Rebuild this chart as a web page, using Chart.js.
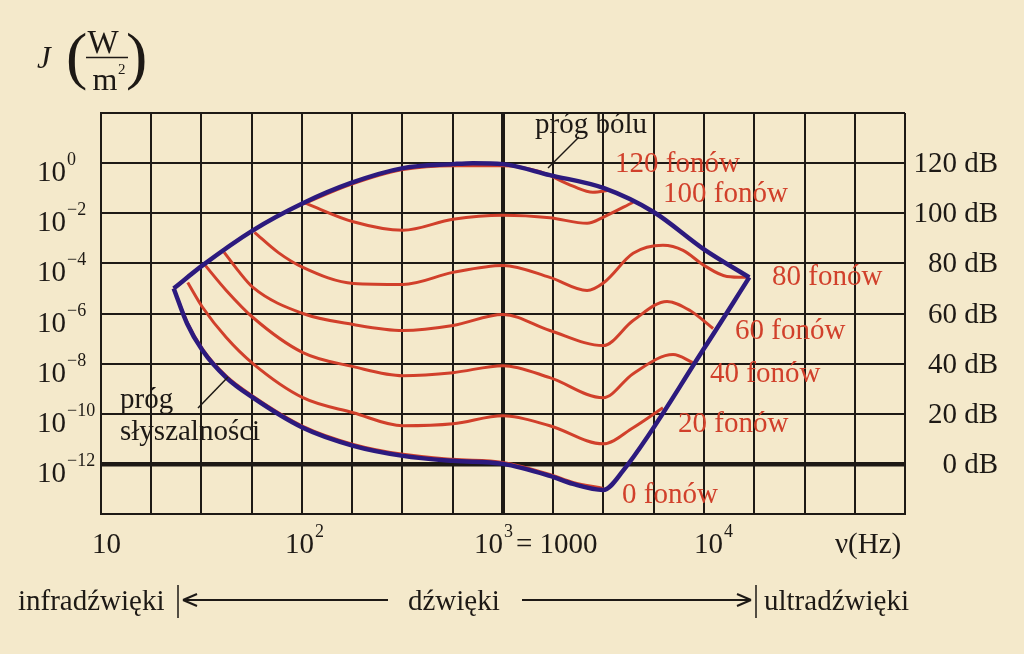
<!DOCTYPE html>
<html>
<head>
<meta charset="utf-8">
<script src="https://cdn.jsdelivr.net/npm/chart.js@4"></script>
<style>
  html, body { margin: 0; padding: 0; background: #f4e9cb; }
  canvas { display: block; }
</style>
</head>
<body>
<canvas id="fonyChart" width="1024" height="654"></canvas>
<script>
// siatka: co cwierc dekady (Hz)
const gridFreqs = [10, 17.78, 31.62, 56.23, 100, 177.8, 316.2, 562.3, 1000, 1778, 3162, 5623, 10000, 17783, 31623, 56234, 100000];

// opisy osi
const levelTicks = [120, 100, 80, 60, 40, 20, 0];
const leftExps = ['0', '\u22122', '\u22124', '\u22126', '\u22128', '\u221210', '\u221212'];
const dbLabels = ['120 dB', '100 dB', '80 dB', '60 dB', '40 dB', '20 dB', '0 dB'];
const xLabelFreqs = [10, 100, 1000, 10000];
const xLabelExps = ['', '2', '3', '4'];

// prog bolu (dB)
const painFreq = [23, 32, 57, 101, 174, 318, 564, 709, 1000, 1710, 3180, 5640, 10000, 16800];
const painLevel = [70, 79.2, 93.2, 104, 112, 118, 119.6, 120, 119.6, 115.2, 110, 100.4, 85.6, 74.4];

// prog slyszalnosci + granica ultradzwiekow
const hearFreq = [23, 26.8, 32, 42, 57, 101, 180, 318, 564, 1000, 1710, 2230, 3150, 3950, 10000, 16800];
const hearLevel = [70, 56, 45.2, 34.4, 26.4, 14.4, 7.2, 3.2, 1.2, 0, -4.8, -8, -10.4, -2.8, 46, 74.4];

// krzywe jednakowej glosnosci
const phon120Freq = [101, 174, 318, 564, 1000, 1530, 2230, 2800, 3400];
const phon120Level = [103.6, 111.4, 117.4, 119, 119, 116.6, 110.8, 108.4, 109.2];

const phon100Freq = [104, 180, 318, 564, 1000, 1710, 2620, 3180, 4440];
const phon100Level = [104, 96.6, 93.2, 97.6, 99.2, 98.2, 96, 98.6, 104.4];

const phon80Freq = [58, 76, 101, 180, 318, 564, 1000, 1710, 2620, 3180, 4440, 6250, 7870, 10000, 13000, 16800];
const phon80Level = [92.4, 84.4, 78.4, 72, 71.6, 76.4, 79.2, 74.4, 69.2, 72.4, 84, 87.2, 85.2, 79.2, 74.8, 74.4];

const phon60Freq = [41, 48, 57, 101, 180, 318, 564, 1000, 1710, 3150, 4440, 6550, 8520, 11100];
const phon60Level = [84.4, 77.2, 70.4, 60, 55.6, 53.2, 55.2, 59.6, 53.2, 47.2, 57.2, 64.8, 61.2, 54];

const phon40Freq = [33, 42, 57, 101, 180, 318, 564, 1000, 1710, 3150, 4440, 7020, 8820];
const phon40Level = [79.2, 69.2, 58.4, 44.4, 38.8, 35.2, 36.4, 39.2, 34.4, 26.4, 36, 43.6, 40.4];

const phon20Freq = [27, 32, 42, 57, 101, 180, 318, 564, 1000, 1710, 3150, 4440, 6250];
const phon20Level = [72.4, 62.5, 50.4, 40, 26.4, 20.4, 15.2, 16, 19.2, 15.2, 8, 14.4, 22.4];

const phon0Freq = [23, 26.8, 32, 42, 57, 101, 180, 318, 564, 1000, 1710, 2230, 3150];
const phon0Level = [70, 56.6, 45.8, 35, 27, 15, 7.8, 3.8, 1.8, 0.6, -4.2, -7.4, -9.8];

const BG = '#f4e9cb';
const INK = '#1d1915';
const RED = '#d1402b';
const BLUE = '#2c1a7e';
const SERIF = '"Liberation Serif", "Times New Roman", serif';

function toPoints(freq, level) {
    return freq.map(function(f, i) { return { x: f, y: level[i] }; });
}

function curve(freq, level, color, width) {
    return {
        data: toPoints(freq, level),
        borderColor: color,
        borderWidth: width,
        pointRadius: 0,
        fill: false,
        tension: 0.4,
        cubicInterpolationMode: 'monotone'
    };
}

function power(c, x, y, base, exp) {
    c.font = '29px ' + SERIF;
    c.textAlign = 'left';
    c.fillText(base, x, y);
    if (exp) {
        const w = c.measureText(base).width;
        c.font = '18px ' + SERIF;
        c.fillText(exp, x + w + 1, y - 16);
    }
}

function line(c, x1, y1, x2, y2, w) {
    c.lineWidth = w;
    c.beginPath();
    c.moveTo(x1, y1);
    c.lineTo(x2, y2);
    c.stroke();
}

const background = {
    id: 'background',
    beforeDraw: function(chart) {
        const c = chart.ctx;
        c.save();
        c.fillStyle = BG;
        c.fillRect(0, 0, chart.width, chart.height);
        c.restore();
    }
};

const labels = {
    id: 'labels',
    afterDraw: function(chart) {
        const c = chart.ctx;
        const xs = chart.scales.x;
        const ys = chart.scales.y;
        c.save();
        c.fillStyle = INK;
        c.strokeStyle = INK;
        c.textBaseline = 'alphabetic';

        // jednostka osi J
        c.font = 'italic 31px ' + SERIF;
        c.fillText('J', 37, 68);
        c.font = '64px ' + SERIF;
        c.fillText('(', 66, 77);
        c.fillText(')', 126, 77);
        c.font = '33px ' + SERIF;
        c.textAlign = 'center';
        c.fillText('W', 103, 53);
        c.font = '32px ' + SERIF;
        c.fillText('m', 105, 90);
        c.textAlign = 'left';
        c.font = '15px ' + SERIF;
        c.fillText('2', 118, 74);
        line(c, 86, 57.5, 128, 57.5, 1.5);

        // lewa os: potegi dziesieciu
        levelTicks.forEach(function(db, i) {
            power(c, 37, ys.getPixelForValue(db) + 18, '10', leftExps[i]);
        });

        // prawa os: dB
        c.font = '29px ' + SERIF;
        c.textAlign = 'right';
        levelTicks.forEach(function(db, i) {
            c.fillText(dbLabels[i], 998, ys.getPixelForValue(db) + 9);
        });

        // os czestotliwosci
        const shifts = [-9, -17, -29, -10];
        xLabelFreqs.forEach(function(f, i) {
            power(c, xs.getPixelForValue(f) + shifts[i], 553, '10', xLabelExps[i]);
        });
        c.font = '29px ' + SERIF;
        c.textAlign = 'left';
        c.fillText('= 1000', 516, 553);
        c.fillText('\u03bd(Hz)', 835, 553);

        // podzial zakresow
        const yb = 610;
        c.fillText('infrad\u017awi\u0119ki', 18, yb);
        c.fillText('d\u017awi\u0119ki', 408, yb);
        c.fillText('ultrad\u017awi\u0119ki', 764, yb);
        line(c, 178, 585, 178, 618, 1.5);
        line(c, 756, 585, 756, 618, 1.5);
        line(c, 183, 600, 388, 600, 2);
        line(c, 183, 600, 197, 594, 2);
        line(c, 183, 600, 197, 606, 2);
        line(c, 522, 600, 751, 600, 2);
        line(c, 751, 600, 737, 594, 2);
        line(c, 751, 600, 737, 606, 2);

        // opisy progow
        c.fillText('pr\u00f3g b\u00f3lu', 535, 133);
        line(c, 548, 168, 579, 137, 1.5);
        c.fillText('pr\u00f3g', 120, 408);
        c.fillText('s\u0142yszalno\u015bci', 120, 440);
        line(c, 198, 408, 228, 377, 1.5);

        // fony
        c.fillStyle = RED;
        c.fillText('120 fon\u00f3w', 615, 172);
        c.fillText('100 fon\u00f3w', 663, 202);
        c.fillText('80 fon\u00f3w', 772, 285);
        c.fillText('60 fon\u00f3w', 735, 339);
        c.fillText('40 fon\u00f3w', 710, 382);
        c.fillText('20 fon\u00f3w', 678, 432);
        c.fillText('0 fon\u00f3w', 622, 503);
        c.restore();
    }
};

const ctx = document.getElementById('fonyChart').getContext('2d');
const fonyChart = new Chart(ctx, {
    type: 'line',
    data: {
        datasets: [
            curve(painFreq, painLevel, BLUE, 4.5),
            curve(hearFreq, hearLevel, BLUE, 4.5),
            curve(phon120Freq, phon120Level, RED, 3),
            curve(phon100Freq, phon100Level, RED, 3),
            curve(phon80Freq, phon80Level, RED, 3),
            curve(phon60Freq, phon60Level, RED, 3),
            curve(phon40Freq, phon40Level, RED, 3),
            curve(phon20Freq, phon20Level, RED, 3),
            curve(phon0Freq, phon0Level, RED, 3)
        ]
    },
    options: {
        responsive: false,
        animation: false,
        devicePixelRatio: 1,
        events: [],
        layout: {
            padding: { left: 101, right: 119, top: 113, bottom: 140 }
        },
        plugins: {
            legend: { display: false },
            tooltip: { enabled: false }
        },
        scales: {
            x: {
                type: 'logarithmic',
                min: 10,
                max: 100000,
                afterBuildTicks: function(axis) {
                    axis.ticks = gridFreqs.map(function(v) { return { value: v }; });
                },
                ticks: { display: false },
                grid: {
                    color: INK,
                    drawTicks: false,
                    lineWidth: function(context) {
                        return context.tick && context.tick.value === 1000 ? 4 : 2;
                    }
                },
                border: { display: true, color: INK, width: 2 }
            },
            y: {
                type: 'linear',
                min: -20,
                max: 140,
                ticks: { display: false, stepSize: 20 },
                grid: {
                    color: INK,
                    drawTicks: false,
                    lineWidth: function(context) {
                        return context.tick && context.tick.value === 0 ? 4.5 : 2;
                    }
                },
                border: { display: true, color: INK, width: 2 }
            }
        }
    },
    plugins: [background, labels]
});
</script>
</body>
</html>
